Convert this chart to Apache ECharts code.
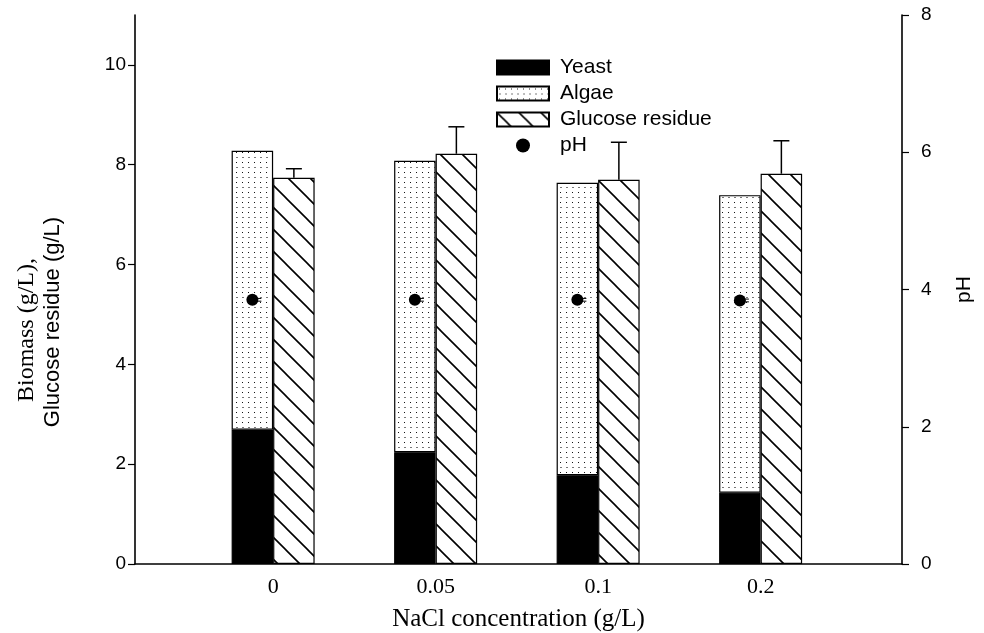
<!DOCTYPE html>
<html><head><meta charset="utf-8">
<script src="https://cdn.jsdelivr.net/npm/echarts@6/dist/echarts.min.js"></script>
<style>html,body{margin:0;padding:0;background:#fff}#c{width:984px;height:633px}</style>
</head><body><div id="c"></div>
<script>
const categories = ['0', '0.05', '0.1', '0.2'];
const yeast = [2.69, 2.24, 1.78, 1.43];
const algae = [5.59, 5.84, 5.86, 5.96];
const glucose = [7.74, 8.22, 7.70, 7.82];
const glucoseErr = [0.18, 0.54, 0.75, 0.66];
const pH = [3.85, 3.85, 3.85, 3.84];
const pHErr = [0.02, 0.02, 0.02, 0.02];
const leftTicks = [0, 2, 4, 6, 8, 10];
const rightTicks = [0, 2, 4, 6, 8];

const BAR_W = 41.5;
// plot frame
const G_LEFT = 135, G_RIGHT = 82, G_TOP = 15, G_BOTTOM = 69, W = 984;
// visible axis extent expressed in category-index units
const X_MIN = -0.85, X_MAX = 3.87;
const plotW = W - G_LEFT - G_RIGHT;
const unit = plotW / (X_MAX - X_MIN);
const barGridLeft = G_LEFT + (-0.5 - X_MIN) * unit;
const barGridRight = W - (G_LEFT + (categories.length - 0.5 - X_MIN) * unit);

function dotPattern() {
  const c = document.createElement('canvas'); c.width = 6; c.height = 10;
  const g = c.getContext('2d');
  g.fillStyle = '#fff'; g.fillRect(0, 0, 6, 10);
  g.fillStyle = '#111'; g.fillRect(2, 2, 1, 1);
  g.fillStyle = '#777'; g.fillRect(2, 7, 2, 1);
  return { image: c, repeat: 'repeat' };
}
function hatchPattern() {
  const S = 22;
  const c = document.createElement('canvas'); c.width = S; c.height = S;
  const g = c.getContext('2d');
  g.fillStyle = '#fff'; g.fillRect(0, 0, S, S);
  g.strokeStyle = '#000'; g.lineWidth = 1.6;
  g.beginPath();
  g.moveTo(-2, -2); g.lineTo(S + 2, S + 2);
  g.moveTo(S - 3, -3); g.lineTo(S + 3, 3);
  g.moveTo(-3, S - 3); g.lineTo(3, S + 3);
  g.stroke();
  return { image: c, repeat: 'repeat' };
}

const chart = echarts.init(document.getElementById('c'), null, { renderer: 'canvas' });
const sans = 'Liberation Sans, Arial, sans-serif';
const serif = 'Liberation Serif, Times New Roman, serif';

const option = {
  animation: false,
  backgroundColor: '#fff',
  grid: [
    { left: G_LEFT, right: G_RIGHT, top: G_TOP, bottom: G_BOTTOM, containLabel: false, outerBoundsMode: 'none' },
    { left: barGridLeft, right: barGridRight, top: G_TOP, bottom: G_BOTTOM, containLabel: false, outerBoundsMode: 'none' }
  ],
  legend: {
    left: 496, top: 57, orient: 'vertical', padding: 0,
    itemWidth: 52, itemHeight: 14, itemGap: 5,
    textStyle: { fontFamily: sans, fontSize: 21, color: '#000', padding: [0, 0, 0, 6] },
    data: [
      { name: 'Yeast', icon: 'rect' },
      { name: 'Algae', icon: 'rect' },
      { name: 'Glucose residue', icon: 'rect' },
      { name: 'pH', icon: 'circle' }
    ]
  },
  xAxis: [
    {
      gridIndex: 0, type: 'value', min: X_MIN, max: X_MAX,
      axisLine: { show: true, onZero: false, lineStyle: { color: '#000', width: 1.6 } },
      axisTick: { show: false }, splitLine: { show: false }, axisLabel: { show: false },
      name: 'NaCl concentration (g/L)', nameLocation: 'middle', nameGap: 43,
      nameTextStyle: { fontFamily: serif, fontSize: 25, color: '#000' }
    },
    {
      gridIndex: 1, type: 'category', data: categories,
      axisLine: { show: false }, axisTick: { show: false }, splitLine: { show: false },
      axisLabel: { fontFamily: serif, fontSize: 22, color: '#000', margin: 12 }
    }
  ],
  yAxis: [
    {
      gridIndex: 0, type: 'value', min: 0, max: 11,
      axisLine: { show: true, onZero: false, lineStyle: { color: '#000', width: 1.6 } },
      axisTick: { show: true, inside: false, length: 7, customValues: leftTicks, lineStyle: { color: '#000', width: 1.2 } },
      splitLine: { show: false },
      axisLabel: { customValues: leftTicks, fontFamily: sans, fontSize: 19, color: '#000', margin: 9 }
    },
    {
      gridIndex: 0, type: 'value', min: 0, max: 8, position: 'right',
      axisLine: { show: true, onZero: false, lineStyle: { color: '#000', width: 1.6 } },
      axisTick: { show: true, inside: false, length: 7, customValues: rightTicks, lineStyle: { color: '#000', width: 1.2 } },
      splitLine: { show: false },
      axisLabel: { customValues: rightTicks, fontFamily: sans, fontSize: 19, color: '#000', margin: 19 },
      name: 'pH', nameLocation: 'middle', nameGap: 52, nameRotate: 90,
      nameTextStyle: { fontFamily: sans, fontSize: 21, color: '#000' }
    },
    { gridIndex: 1, type: 'value', min: 0, max: 11, show: false },
    { gridIndex: 1, type: 'value', min: 0, max: 8, show: false }
  ],
  graphic: [
    { type: 'text', x: 27, y: 330, rotation: Math.PI / 2,
      style: { text: 'Biomass (g/L),', font: '24px ' + serif, fill: '#000', align: 'center', verticalAlign: 'middle' } },
    { type: 'text', x: 53, y: 322, rotation: Math.PI / 2,
      style: { text: 'Glucose residue (g/L)', font: '22px ' + sans, fill: '#000', align: 'center', verticalAlign: 'middle' } }
  ],
  series: [
    {
      name: 'Yeast', type: 'bar', xAxisIndex: 1, yAxisIndex: 2, stack: 'bio', barWidth: BAR_W, barGap: '0%',
      data: yeast,
      itemStyle: { color: '#000', borderColor: '#000', borderWidth: 1.2 }
    },
    {
      name: 'Algae', type: 'bar', xAxisIndex: 1, yAxisIndex: 2, stack: 'bio', barWidth: BAR_W, barGap: '0%',
      data: algae,
      itemStyle: { color: dotPattern(), borderColor: '#000', borderWidth: 1.2 }
    },
    {
      name: 'Glucose residue', type: 'bar', xAxisIndex: 1, yAxisIndex: 2, barWidth: BAR_W, barGap: '0%',
      data: glucose,
      itemStyle: { color: hatchPattern(), borderColor: '#000', borderWidth: 1.2 }
    },
    {
      name: 'glucoseErr', type: 'custom', xAxisIndex: 1, yAxisIndex: 2, z: 3,
      data: glucose.map((v, i) => [i, v, v + glucoseErr[i]]),
      renderItem(params, api) {
        const x = api.value(0);
        const base = api.coord([x, api.value(1)]);
        const top = api.coord([x, api.value(2)]);
        const cx = base[0] + BAR_W / 2;
        return { type: 'group', children: [
          { type: 'line', shape: { x1: cx, y1: base[1], x2: cx, y2: top[1] }, style: { stroke: '#000', lineWidth: 1.5 } },
          { type: 'line', shape: { x1: cx - 8, y1: top[1], x2: cx + 8, y2: top[1] }, style: { stroke: '#000', lineWidth: 1.5 } }
        ] };
      }
    },
    {
      name: 'pH', type: 'scatter', xAxisIndex: 1, yAxisIndex: 3, z: 5,
      symbol: 'circle', symbolSize: 12, symbolOffset: [-BAR_W / 2, 0],
      data: pH.map((v, i) => [i, v]),
      itemStyle: { color: '#000', opacity: 1 }
    },
    {
      name: 'pHErr', type: 'custom', xAxisIndex: 1, yAxisIndex: 3, z: 4,
      data: pH.map((v, i) => [i, v - pHErr[i], v + pHErr[i]]),
      renderItem(params, api) {
        const x = api.value(0);
        const lo = api.coord([x, api.value(1)]);
        const hi = api.coord([x, api.value(2)]);
        const cx = lo[0] - BAR_W / 2;
        return { type: 'group', children: [
          { type: 'line', shape: { x1: cx, y1: lo[1], x2: cx + 9, y2: lo[1] }, style: { stroke: '#000', lineWidth: 1 } },
          { type: 'line', shape: { x1: cx, y1: hi[1], x2: cx + 9, y2: hi[1] }, style: { stroke: '#000', lineWidth: 1 } }
        ] };
      }
    }
  ]
};
chart.setOption(option);
</script>
</body></html>
